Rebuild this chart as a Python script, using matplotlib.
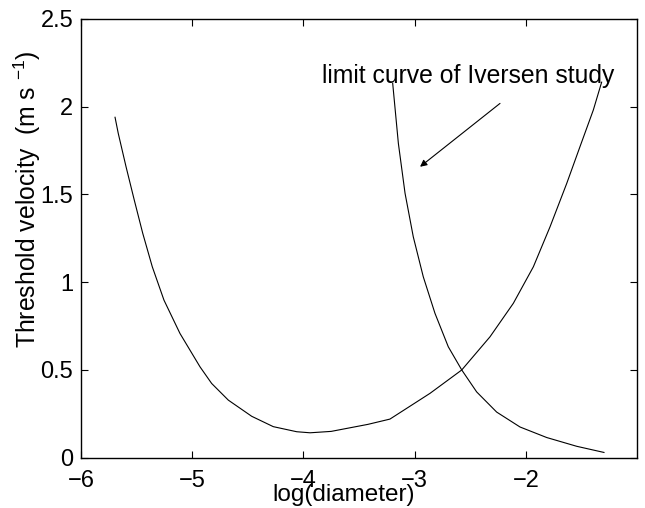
import matplotlib
matplotlib.use("Agg")
import matplotlib.pyplot as plt

plt.rcParams['font.family'] = ['Liberation Sans', 'DejaVu Sans']

# Curve 1: threshold velocity vs log(diameter)
x1 = [-5.694, -5.665, -5.595, -5.521, -5.445, -5.359, -5.254, -5.110, -4.930,
      -4.825, -4.675, -4.465, -4.271, -4.060, -3.940, -3.750, -3.610, -3.420,
      -3.222, -3.050, -2.861, -2.576, -2.322, -2.112, -1.932, -1.782, -1.632,
      -1.513, -1.393, -1.318]
y1 = [1.940, 1.848, 1.658, 1.468, 1.279, 1.088, 0.898, 0.708, 0.518,
      0.423, 0.328, 0.236, 0.177, 0.148, 0.142, 0.150, 0.167, 0.190,
      0.220, 0.290, 0.367, 0.500, 0.689, 0.880, 1.088, 1.316, 1.563,
      1.772, 1.981, 2.140]

# Curve 2: limit curve of Iversen study
x2 = [-3.197, -3.146, -3.086, -3.012, -2.922, -2.817, -2.697, -2.576, -2.442,
      -2.262, -2.052, -1.812, -1.542, -1.297]
y2 = [2.133, 1.791, 1.507, 1.259, 1.031, 0.823, 0.632, 0.500, 0.375,
      0.260, 0.175, 0.115, 0.065, 0.030]

xticks = [-6, -5, -4, -3, -2]
yticks = [0, 0.5, 1, 1.5, 2, 2.5]
ytick_labels = ['0', '0.5', '1', '1.5', '2', '2.5']

fig = plt.figure(figsize=(6.45, 5.08), dpi=100)
ax = fig.add_axes([0.1256, 0.099, 0.862, 0.8636])

ax.plot(x1, y1, color='black', lw=0.8)
ax.plot(x2, y2, color='black', lw=0.8)

ax.set_xlim(-6, -1)
ax.set_ylim(0, 2.5)
ax.set_xticks(xticks)
ax.set_xticklabels([f"\u2212{abs(t)}" for t in xticks])
ax.set_yticks(yticks)
ax.set_yticklabels(ytick_labels)

ax.tick_params(direction='in', top=True, right=True, length=5, width=0.8,
               labelsize=17)
ax.tick_params(axis='x', pad=8.5)
ax.tick_params(axis='y', pad=5.5)
for s in ax.spines.values():
    s.set_linewidth(1.0)

ax.set_xlabel('log(diameter)', fontsize=17.5)
ax.xaxis.label.set_verticalalignment('baseline')
ax.xaxis.set_label_coords(0.473, -0.0987)

ax.set_ylabel('Threshold velocity  (m s $^{\\mathregular{\u22121}}$)', fontsize=17.8)
ax.yaxis.label.set_verticalalignment('baseline')
ax.yaxis.set_label_coords(-0.0818, 0.590)

ax.annotate('', xy=(-2.951, 1.658), xytext=(-2.232, 2.019),
            arrowprops=dict(arrowstyle='-|>', color='black', lw=0.8,
                            mutation_scale=10, shrinkA=0, shrinkB=0))
ax.text(-3.833, 2.133, 'limit curve of Iversen study', fontsize=17.8,
        ha='left', va='baseline')

fig.savefig('out.png', dpi=100)
